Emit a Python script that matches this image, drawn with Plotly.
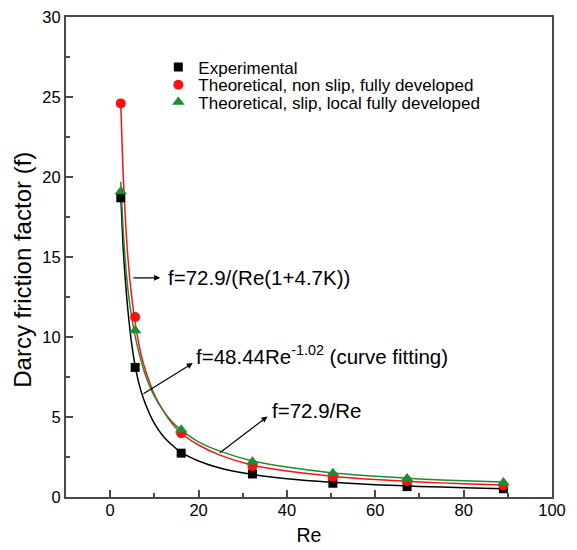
import plotly.graph_objects as go

# measured points
re_pts = [2.4, 5.66, 16.07, 32.2, 50.4, 67.2, 89.0]
f_exp = [18.7, 8.1, 2.74, 1.44, 0.86, 0.65, 0.52]
f_nonslip = [24.6, 11.25, 3.98, 1.94, 1.27, 1.0, 0.72]
f_slip = [19.1, 10.4, 4.2, 2.21, 1.48, 1.15, 0.9]

# fitted curves
re_curve = [2.4, 3, 4, 5, 6, 7, 8, 10, 12, 14, 16, 20, 25, 32, 40, 50, 60, 70, 80, 89]
fit_exp = [18.9, 15.3, 11.7, 9.3, 7.7, 6.6, 5.8, 4.6, 3.8, 3.25, 2.8, 2.25, 1.8, 1.42, 1.14, 0.92, 0.77, 0.66, 0.58, 0.52]
fit_nonslip = [24.6, 19.8, 15.0, 12.2, 10.3, 8.9, 7.9, 6.4, 5.4, 4.6, 4.0, 3.25, 2.6, 2.0, 1.62, 1.3, 1.09, 0.94, 0.83, 0.75]
fit_slip = [19.7, 16.4, 13.0, 11.0, 9.6, 8.5, 7.6, 6.3, 5.4, 4.7, 4.2, 3.45, 2.85, 2.27, 1.87, 1.52, 1.3, 1.13, 1.01, 0.93]

names = ["Experimental", "Theoretical, non slip, fully developed", "Theoretical, slip, local fully developed"]
x_ticks = [0, 20, 40, 60, 80, 100]
y_ticks = [0, 5, 10, 15, 20, 25, 30]

BLACK = "#000000"
RED = "#ff0f0f"
GREEN = "#1d8c33"
AXC = "#4a4a4a"
FONT = "Liberation Sans, Arial, sans-serif"

fig = go.Figure()
for fy, col in [(fit_exp, BLACK), (fit_nonslip, RED), (fit_slip, GREEN)]:
    fig.add_trace(go.Scatter(x=re_curve, y=fy, mode="lines", line=dict(color=col, width=1.5, shape="spline", smoothing=0.6),
                             showlegend=False, hoverinfo="skip"))

fig.add_trace(go.Scatter(x=re_pts, y=f_exp, mode="markers", name=names[0], legend="legend",
                         marker=dict(symbol="square", size=9, color=BLACK)))
fig.add_trace(go.Scatter(x=re_pts, y=f_nonslip, mode="markers", name=names[1], legend="legend2",
                         marker=dict(symbol="circle", size=10, color=RED)))
fig.add_trace(go.Scatter(x=re_pts, y=f_slip, mode="markers", name=names[2], legend="legend3",
                         marker=dict(symbol="triangle-up", size=11, color=GREEN)))

ann_font = dict(family=FONT, size=20.5, color="black")
arrows = [
    # (tip x, tip y, tail x, tail y)
    (11.3, 13.7, 4.9, 13.7),
    (18.7, 8.37, 7.2, 6.39),
    (35.6, 5.03, 24.5, 2.69),
]
for tx, ty, ax, ay in arrows:
    fig.add_annotation(x=tx, y=ty, ax=ax, ay=ay, xref="x", yref="y", axref="x", ayref="y",
                       text="", showarrow=True, arrowhead=2, arrowsize=1, arrowwidth=1.2, arrowcolor="black")

texts = [
    (12.7, 13.7, "f=72.9/(Re(1+4.7K))"),
    (19.0, 8.85, "f=48.44Re<sup>-1.02</sup> (curve fitting)"),
    (36.1, 5.4, "f=72.9/Re"),
]
for tx, ty, t in texts:
    fig.add_annotation(x=tx, y=ty, xref="x", yref="y", text=t, showarrow=False,
                       xanchor="left", yanchor="middle", font=ann_font)

# y axis title (rotated text, slightly below the axis centre like the reference)
fig.add_annotation(x=-0.09, y=0.474, xref="paper", yref="paper", text="Darcy friction factor (f)",
                   textangle=-90, showarrow=False, xanchor="center", yanchor="middle",
                   font=dict(family=FONT, size=24, color="black"))

fig.update_xaxes(range=[-10, 100], tickvals=x_ticks, ticktext=[str(v) for v in x_ticks],
                 showgrid=False, zeroline=False, showline=True, linecolor=AXC, linewidth=2, automargin=False,
                 mirror=True,
                 ticks="inside", tickcolor=AXC, tickwidth=1.5, ticklen=7, ticklabeloverflow="allow",
                 ticklabelstandoff=-3,
                 tickfont=dict(family=FONT, size=16.5, color="black"),
                 minor=dict(ticks="inside", ticklen=4, tickcolor=AXC, tickwidth=1.5, tickvals=[10, 30, 50, 70, 90]),
                 title=dict(text="Re", font=dict(family=FONT, size=19.5, color="black"), standoff=11))
fig.update_yaxes(range=[0, 30], tickvals=y_ticks, ticktext=[str(v) for v in y_ticks],
                 showgrid=False, zeroline=False, showline=True, linecolor=AXC, linewidth=2, automargin=False,
                 mirror=True,
                 ticks="inside", tickcolor=AXC, tickwidth=1.5, ticklen=7, ticklabeloverflow="allow",
                 tickfont=dict(family=FONT, size=16.5, color="black"),
                 minor=dict(ticks="inside", ticklen=4, tickcolor=AXC, tickwidth=1.5,
                            tickvals=[2.5, 7.5, 12.5, 17.5, 22.5, 27.5]))

leg_common = dict(x=0.19, xanchor="left", yanchor="middle", bgcolor="rgba(0,0,0,0)",
                  font=dict(family=FONT, size=17, color="black"))
# the page adds an 8px body margin, so the figure is sized to fit the remaining window
fig.update_layout(
    width=569, height=542,
    margin=dict(l=58, r=25, t=9, b=53, autoexpand=False),
    plot_bgcolor="white", paper_bgcolor="white",
    font=dict(family=FONT, color="black"),
    legend=dict(y=0.895, **leg_common),
    legend2=dict(y=0.858, **leg_common),
    legend3=dict(y=0.822, **leg_common),
)

fig.write_html("out.html")
